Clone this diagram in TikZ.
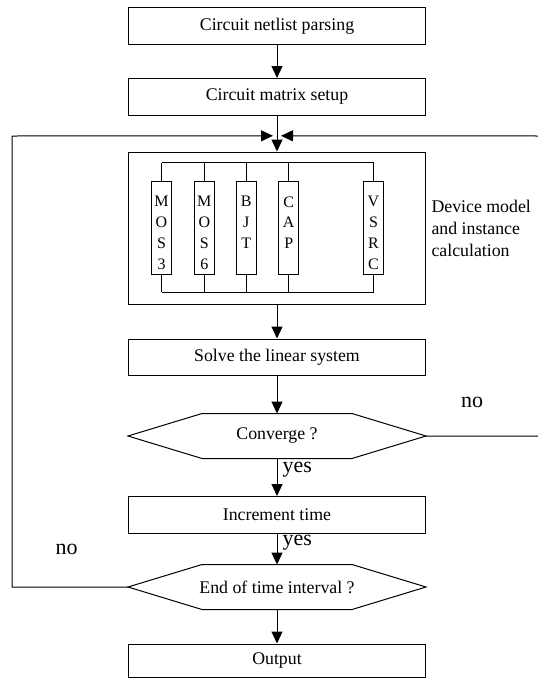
\documentclass[tikz,border=0pt]{standalone}
\usepackage{fontspec}
\setmainfont{Liberation Serif}
\usetikzlibrary{positioning,arrows.meta}

% flat-topped hexagon round a (not drawn) decision node
\newcommand{\hexframe}[1]{%
  \draw (#1.west) -- ([xshift=74pt]#1.north west) -- ([xshift=-74pt]#1.north east)
    -- (#1.east) -- ([xshift=-74pt]#1.south east) -- ([xshift=74pt]#1.south west) -- cycle;}

\begin{document}
\begin{tikzpicture}[
  x=1pt, y=1pt,
  line width=1pt,
  font=\fontsize{17.8}{21}\selectfont,
  >={Triangle[length=12pt,width=11pt]},
  stepbox/.style={draw, minimum width=297pt, minimum height=36.5pt, inner sep=0pt},
  decision/.style={minimum width=297pt, minimum height=44pt, inner sep=0pt},
  devbox/.style={draw, minimum width=20pt, minimum height=93pt, inner sep=0pt},
  devtext/.style={align=center, inner sep=0pt, font=\fontsize{16}{20.7}\selectfont},
  lbl/.style={inner sep=0pt, font=\fontsize{22}{24}\selectfont}
]
  \useasboundingbox (0,0) rectangle (538,-678);

  % Main chain
  \node[stepbox, anchor=north] (parse) at (277,-7) {Circuit netlist parsing};
  \node[stepbox, below=33.5pt of parse] (matrix) {Circuit matrix setup};
  \node[stepbox, below=36pt of matrix, minimum height=152pt] (device) {};
  \node[stepbox, below=34pt of device] (solve) {Solve the linear system};
  \node[decision, below=37.5pt of solve] (conv) {Converge ?};
  \hexframe{conv}
  \node[stepbox, below=37.5pt of conv] (incr) {Increment time};
  \node[decision, below=31pt of incr] (endt) {End of time interval ?};
  \hexframe{endt}
  \node[stepbox, below=34pt of endt, minimum height=33.5pt] (out) {Output};

  % Device models inside the evaluation block
  \foreach \nm/\dx/\txt in {mos3/-115.5/{M\\O\\S\\3}, mos6/-72.7/{M\\O\\S\\6},
      bjt/-30.8/{B\\J\\T}, cap/11.7/{C\\A\\P}, vsrc/96.5/{V\\S\\R\\C}}{
    \node[devbox] (\nm) at ([xshift=\dx]device.center) {};
    \node[devtext, below=15pt of \nm.north] (\nm-t) {\txt};
    \draw (\nm.north) -- ++(0,18.3);
    \draw (\nm.south) -- ++(0,-17.4);
  }
  \draw ([yshift=18.3pt]mos3.north) -- ([yshift=18.3pt]vsrc.north);
  \draw ([yshift=-17.4pt]mos3.south) -- ([yshift=-17.4pt]vsrc.south);
  \node[right=5pt of device, align=left, inner sep=0pt,
    font=\fontsize{17.8}{22}\selectfont] (devlabel) {Device model\\and instance\\calculation};

  % Arrows
  \coordinate (jn) at ([yshift=15.7pt]device.north);
  \coordinate (loopL) at (12,-136);
  \coordinate (loopR) at (541,-136);
  \draw[->] (parse) -- (matrix);
  \draw (matrix) -- (jn);
  \draw[->] (jn) -- (device);
  \draw[->] (device) -- (solve);
  \draw[->] (solve) -- (conv);
  \draw[->] (conv) -- node[lbl, pos=0, anchor=north west, xshift=5pt, yshift=-3pt] (yes1) {yes} (incr);
  \draw[->] (incr) -- node[lbl, pos=0, anchor=north west, xshift=5pt, yshift=-1.5pt] (yes2) {yes} (endt);
  \draw[->] (endt) -- (out);
  \draw[->] (conv.east) -| (loopR) -- ([xshift=4pt]jn);
  \draw[->] (endt.west) -| (loopL) -- ([xshift=-4pt]jn);

  % Branch labels
  \node[lbl] (noR) at (472,-402) {no};
  \node[lbl] (noL) at (66.5,-549) {no};
\end{tikzpicture}
\end{document}
